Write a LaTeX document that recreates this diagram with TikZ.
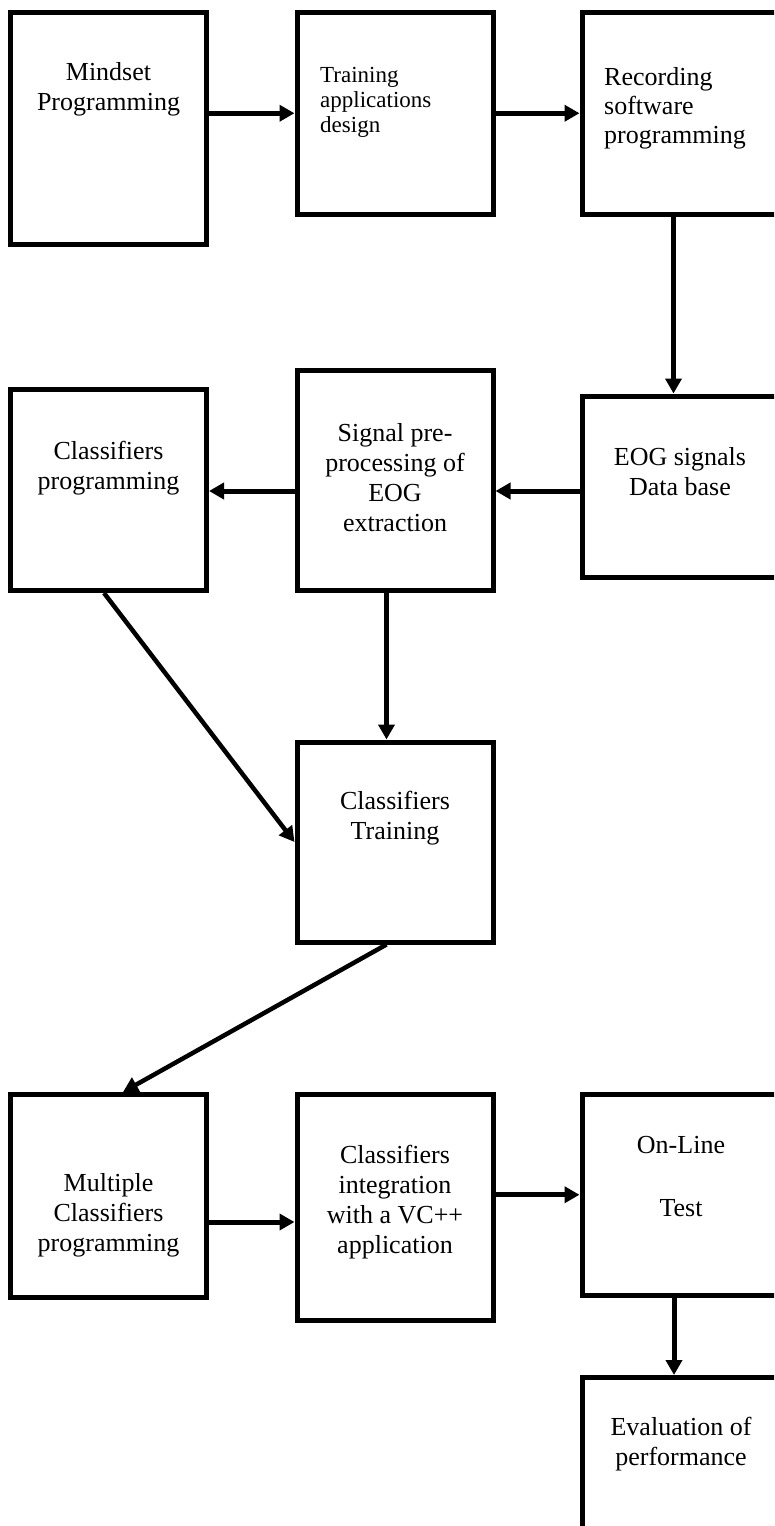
\documentclass[tikz,border=0pt]{standalone}
\usepackage{fontspec}
\setmainfont{Liberation Serif}
\usetikzlibrary{arrows.meta,calc}

\begin{document}
\begin{tikzpicture}[x=1pt,y=-1pt,
  box/.style={draw=black, line width=5pt, minimum width=196pt, inner sep=0pt},
  lbl/.style={align=center, inner sep=0pt, font=\fontsize{26}{30}\selectfont},
  lblleft/.style={align=left, inner sep=0pt, anchor=west},
  flow/.style={line width=5pt, -{Triangle[length=15pt,width=16pt]}},
]
\useasboundingbox (0,0) rectangle (774,1526);
\clip (0,0) rectangle (774,1526);

% process boxes
\node[box, minimum height=232pt]   (b1)  at (108.5,128.5)  {};
\node[box, minimum height=201.5pt] (b2)  at (395,113.25)   {};
\node[box, minimum height=201.5pt] (b3)  at (680,113.25)   {};
\node[box, minimum height=181pt]   (eog) at (680,486.5)    {};
\node[box, minimum height=220.5pt] (sig) at (395,480.25)   {};
\node[box, minimum height=201.5pt] (cp)  at (108.5,489.75) {};
\node[box, minimum height=200pt]   (ct)  at (395,842)      {};
\node[box, minimum height=202.5pt] (mc)  at (108.5,1195.75){};
\node[box, minimum height=225.5pt] (ci)  at (395,1207.25)  {};
\node[box, minimum height=200.5pt] (ol)  at (680,1194.75)  {};
\node[box, minimum height=185pt]   (ev)  at (680,1470)     {};

% labels
\node[lbl] (t1) at (108.5,89) {Mindset\\Programming};
\node[lblleft, font=\fontsize{23}{25}\selectfont] (t2) at (320,102) {Training\\applications\\design};
\node[lblleft, font=\fontsize{26}{29}\selectfont] (t3) at (604,108) {Recording\\software\\programming};
\node[lbl] (t4) at (108.5,468) {Classifiers\\programming};
\node[lbl] (t5) at (395,477.5) {Signal pre-\\processing of\\EOG\\extraction};
\node[lbl] (t6) at (680,472) {EOG signals\\Data base};
\node[lbl] (t7) at (395,818) {Classifiers\\Training};
\node[lbl] (t8) at (108.5,1215) {Multiple\\Classifiers\\programming};
\node[lbl] (t9) at (395,1202) {Classifiers\\integration\\with a VC++\\application};
\node[lbl, font=\fontsize{26}{31.5}\selectfont] (t10) at (681,1176.5) {On-Line\\[31.5pt]Test};
\node[lbl] (t11) at (681,1444) {Evaluation of\\performance};

% guide coordinates for the connector lines
\coordinate (r2) at (0,491);
\coordinate (c2) at (386.5,0);
\coordinate (r4) at (0,1222);

% connectors
\draw[flow] (b1.east |- b2.west) -- (b2.west);
\draw[flow] (b2.east) -- (b3.west);
\draw[flow] ([xshift=-6.5pt]b3.south) -- ([xshift=-6.5pt]eog.north);
\draw[flow] (eog.west |- r2) -- (sig.east |- r2);
\draw[flow] (sig.west |- r2) -- (cp.east |- r2);
\draw[flow] (sig.south -| c2) -- (ct.north -| c2);
\draw[flow, line width=4.5pt] ([xshift=-4.5pt]cp.south) -- (ct.west);
\draw[flow, line width=4.5pt] (ct.south -| c2) -- ([xshift=14.5pt]mc.north);
\draw[flow] (mc.east |- r4) -- (ci.west |- r4);
\draw[flow] (ci.east |- ol.west) -- (ol.west);
\draw[flow] ([xshift=-6pt]ol.south) -- ([xshift=-6pt]ev.north);
\end{tikzpicture}
\end{document}
